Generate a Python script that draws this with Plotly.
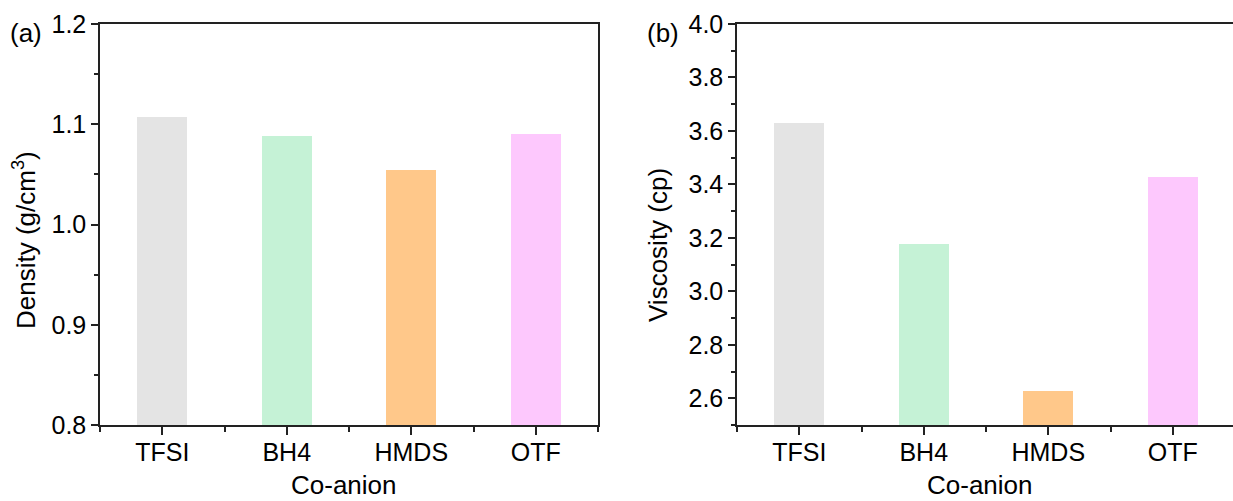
import plotly.graph_objects as go

categories = ["TFSI", "BH4", "HMDS", "OTF"]
density = [1.107, 1.088, 1.054, 1.090]
viscosity = [3.63, 3.177, 2.627, 3.428]
bar_colors = ["#E4E4E4", "#C5F2D6", "#FFC88A", "#FDC8FD"]
density_ticks = [0.8, 0.9, 1.0, 1.1, 1.2]
viscosity_ticks = [2.6, 2.8, 3.0, 3.2, 3.4, 3.6, 3.8, 4.0]

W, H = 1233, 501
TOP, BOT = 24, 425
FONT = "Liberation Sans, Arial, sans-serif"
FS = 25
FS_TITLE = 26
pos = list(range(len(categories)))


def px(x):
    return x / W


def py(y):
    return (BOT - y) / (BOT - TOP)


fig = go.Figure()
fig.add_trace(go.Bar(x=pos, y=density, marker=dict(color=bar_colors, line=dict(width=0)),
                     width=0.4, xaxis="x", yaxis="y", showlegend=False))
fig.add_trace(go.Bar(x=pos, y=viscosity, marker=dict(color=bar_colors, line=dict(width=0)),
                     width=0.4, xaxis="x2", yaxis="y2", showlegend=False))

common_x = dict(
    tickmode="array", tickvals=pos, ticktext=categories,
    ticks="outside", ticklen=8, tickwidth=1.5, tickcolor="#222",
    showline=True, linecolor="#222", linewidth=1.5, mirror=True,
    showgrid=False, zeroline=False,
    tickfont=dict(family=FONT, size=FS, color="black"),
    ticklabelstandoff=-4,
    minor=dict(tickvals=[-0.5, 0.5, 1.5, 2.5, 3.5], ticks="outside", ticklen=5,
               tickwidth=1.5, tickcolor="#222", showgrid=False),
)
common_y = dict(
    ticks="outside", ticklen=7, tickwidth=1.5, tickcolor="#222",
    showline=True, linecolor="#222", linewidth=1.5,
    showgrid=False, zeroline=False,
    tickfont=dict(family=FONT, size=FS, color="black"),
)

ann_font = dict(family=FONT, size=FS_TITLE, color="black")

fig.update_layout(
    width=W, height=H,
    margin=dict(l=0, r=0, t=TOP, b=H - BOT),
    paper_bgcolor="white", plot_bgcolor="white",
    bargap=0,
    xaxis=dict(domain=[px(100), px(598)], range=[-0.5, 3.5], anchor="y", **common_x),
    yaxis=dict(domain=[0, 1], range=[0.8, 1.2], anchor="x", mirror=True,
               tickmode="array", tickvals=density_ticks, ticktext=[f"{v:.1f}" for v in density_ticks],
               minor=dict(tick0=0.8, dtick=0.05, ticks="outside", ticklen=4, tickwidth=1.5,
                          tickcolor="#222", showgrid=False),
               **common_y),
    xaxis2=dict(domain=[px(737), 1.0], range=[-0.5, -0.5 + 496 / 124.5], anchor="y2", **common_x),
    yaxis2=dict(domain=[0, 1], range=[2.5, 4.0], anchor="x2", mirror=False,
                tickmode="array", tickvals=viscosity_ticks, ticktext=[f"{v:.1f}" for v in viscosity_ticks],
                minor=dict(tick0=2.5, dtick=0.1, ticks="outside", ticklen=4, tickwidth=1.5,
                           tickcolor="#222", showgrid=False),
                **common_y),
    annotations=[
        dict(text="(a)", x=px(26), y=py(33), xref="paper", yref="paper",
             showarrow=False, font=ann_font, xanchor="center", yanchor="middle"),
        dict(text="(b)", x=px(663), y=py(33), xref="paper", yref="paper",
             showarrow=False, font=ann_font, xanchor="center", yanchor="middle"),
        dict(text="Density (g/cm<sup>3</sup>)", x=px(24), y=py(240), xref="paper", yref="paper",
             showarrow=False, textangle=-90, font=ann_font, xanchor="center", yanchor="middle"),
        dict(text="Viscosity (cp)", x=px(658), y=py(245), xref="paper", yref="paper",
             showarrow=False, textangle=-90, font=ann_font, xanchor="center", yanchor="middle"),
        dict(text="Co-anion", x=px(344), y=py(485), xref="paper", yref="paper",
             showarrow=False, font=ann_font, xanchor="center", yanchor="middle"),
        dict(text="Co-anion", x=px(980), y=py(485), xref="paper", yref="paper",
             showarrow=False, font=ann_font, xanchor="center", yanchor="middle"),
    ],
)

fig.write_html("out.html")
